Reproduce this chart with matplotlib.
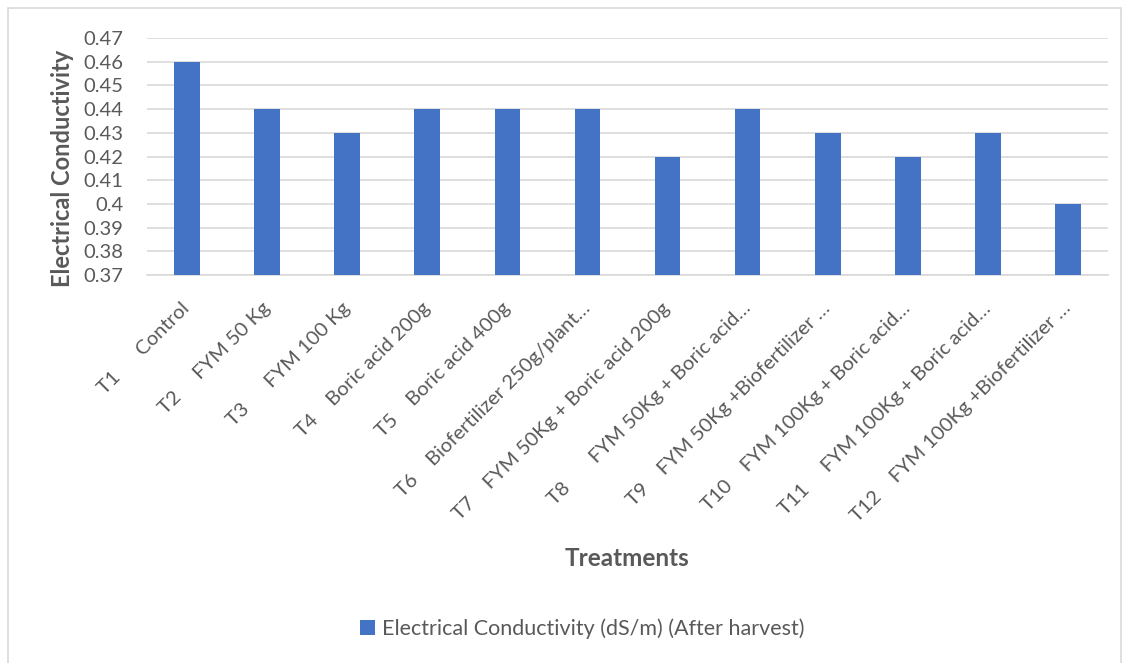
import matplotlib
matplotlib.use("Agg")
import matplotlib.pyplot as plt
from matplotlib.patches import Rectangle

treatments = [
    "T1      Control",
    "T2     FYM 50 Kg",
    "T3      FYM 100 Kg",
    "T4    Boric acid 200g",
    "T5    Boric acid 400g",
    "T6    Biofertilizer 250g/plant\u2026",
    "T7    FYM 50Kg + Boric acid 200g",
    "T8       FYM 50Kg + Boric acid\u2026",
    "T9    FYM 50Kg +Biofertilizer \u2026",
    "T10    FYM 100Kg + Boric acid\u2026",
    "T11     FYM 100Kg + Boric acid\u2026",
    "T12    FYM 100Kg +Biofertilizer \u2026",
]
ec_values = [0.46, 0.44, 0.43, 0.44, 0.44, 0.44, 0.42, 0.44, 0.43, 0.42, 0.43, 0.40]
y_ticks = [0.37, 0.38, 0.39, 0.40, 0.41, 0.42, 0.43, 0.44, 0.45, 0.46, 0.47]
y_tick_labels = ["0.37", "0.38", "0.39", "0.4", "0.41", "0.42", "0.43", "0.44",
                 "0.45", "0.46", "0.47"]
series_name = "Electrical Conductivity (dS/m) (After harvest)"

plt.rcParams["font.family"] = ["Lato", "DejaVu Sans"]
W, H = 1125, 663
fig = plt.figure(figsize=(W / 100, H / 100), dpi=100)
ax = fig.add_axes([147 / W, 1 - 275 / H, (1108 - 147) / W, (275 - 38) / H])

x = list(range(len(treatments)))
ax.bar(x, [v - 0.37 for v in ec_values], bottom=0.37, width=0.32,
       color="#4472C4", label=series_name, zorder=3)

ax.set_xlim(-0.5, len(treatments) - 0.5)
ax.set_ylim(0.37, 0.47)
ax.set_yticks(y_ticks)
ax.set_yticklabels(y_tick_labels, fontsize=14.5, color="#595959")
ax.yaxis.grid(True, color="#D9D9D9", linewidth=1.2, zorder=0)
ax.set_xticks(x)
ax.set_xticklabels(treatments, rotation=45, ha="right", va="center",
                   rotation_mode="anchor", fontsize=14.5, color="#595959")
ax.tick_params(axis="both", length=0)
ax.tick_params(axis="y", pad=17)
ax.tick_params(axis="x", pad=22)
for s in ["top", "right", "left"]:
    ax.spines[s].set_visible(False)
ax.spines["bottom"].set_color("#D9D9D9")
ax.spines["bottom"].set_linewidth(1.2)

fig.text(62 / W, 1 - 168 / H, "Electrical Conductivity", rotation=90,
         ha="center", va="center", fontsize=17, fontweight="bold", color="#595959")
fig.text(627 / W, 1 - 558 / H, "Treatments", ha="center", va="center",
         fontsize=17.5, fontweight="bold", color="#595959")

fig.legend(loc="center", bbox_to_anchor=(582 / W, 1 - 629 / H), frameon=False,
           fontsize=15.5, labelcolor="#595959", handlelength=0.7, handleheight=0.7,
           handletextpad=0.3)

fig.patches.append(Rectangle((8 / W, -0.01), (1121 - 8) / W, 1 - 8 / H + 0.01,
                             transform=fig.transFigure, fill=False,
                             edgecolor="#D9D9D9", linewidth=1.2))

fig.savefig("out.png", dpi=100)
